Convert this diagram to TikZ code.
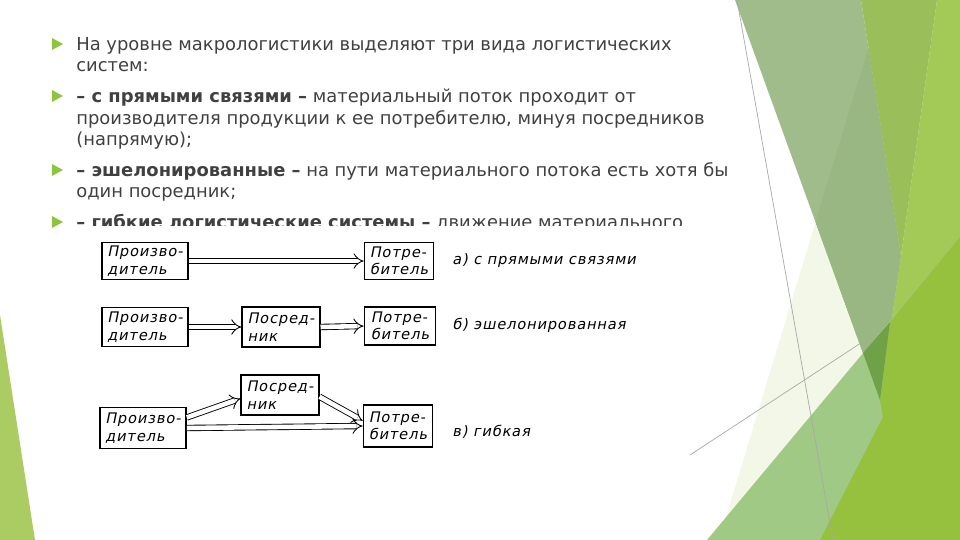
\documentclass[tikz,border=0pt]{standalone}
\usepackage{fontspec}
\usepackage{xcolor}
\usepackage{tikz}
\usetikzlibrary{arrows.meta}
\setmainfont{DejaVu Sans}
\newfontfamily\handfont[FakeSlant=0.2, LetterSpace=6]{DejaVu Sans}
\definecolor{facetcream}{HTML}{F3F7E8}
\definecolor{facetsage}{HTML}{9FBC8A}
\definecolor{facetsagedark}{HTML}{98B783}
\definecolor{facetmid}{HTML}{99BE5A}
\definecolor{facetlime}{HTML}{A3C957}
\definecolor{facetband}{HTML}{A1C986}
\definecolor{facetyellow}{HTML}{95C13F}
\definecolor{facetdeep}{HTML}{6FA148}
\definecolor{facetleft}{HTML}{ABCB63}
\definecolor{facetline}{HTML}{A8A8A8}
\definecolor{bulletgreen}{HTML}{8CC63E}
\definecolor{slidetext}{HTML}{404040}

\tikzset{
    box/.style={draw, line width=1pt, inner xsep=3pt, inner ysep=1pt, align=left,
        font=\handfont\fontsize{8.3pt}{10pt}\selectfont},
    flow/.style={double, double distance=2.6pt, line width=0.5pt, -{Implies[scale=1.35]}},
    caption/.style={anchor=west, inner sep=0pt, font=\handfont\fontsize{8.3pt}{10pt}\selectfont}
}

\begin{document}
\begin{tikzpicture}[x=0.02cm, y=-0.02cm]
    \useasboundingbox (0,0) rectangle (960,540);

    % Facet background
    \fill[facetleft] (0,315) -- (35,540) -- (0,540) -- cycle;
    \fill[facetcream] (883,0) -- (960,0) -- (960,540) -- (719,540) -- cycle;
    \draw[facetline, line width=0.4pt] (690,455) -- (960,278);
    \fill[facetsage] (735,0) -- (861,0) -- (901,256) -- (880,400) -- cycle;
    \begin{scope}
        \clip (883,0) -- (960,0) -- (960,540) -- (719,540) -- cycle;
        \fill[facetsagedark] (735,0) -- (861,0) -- (901,256) -- (880,400) -- cycle;
    \end{scope}
    \fill[facetmid] (861,0) -- (937,0) -- (901,256) -- cycle;
    \fill[facetlime] (937,0) -- (960,0) -- (960,300) -- (880,400) -- (901,256) -- cycle;
    \fill[facetband] (707,540) -- (960,237) -- (960,540) -- cycle;
    \fill[facetyellow] (890,322) -- (960,237) -- (960,540) -- (820,540) -- (883,417) -- (880,400) -- cycle;
    \fill[facetdeep] (863,353) -- (890,322) -- (880,400) -- cycle;
    \draw[facetline, line width=0.4pt] (737,0) -- (833,540);

    % Bullets
    \foreach \y in {44,96,170,222}
        \fill[bulletgreen] (52,\y-6) -- (63,\y) -- (52,\y+6) -- cycle;

    % Text
    \begin{scope}[every node/.style={anchor=base west, align=left, inner sep=0pt, text=slidetext,
            font=\fontsize{10.2pt}{12.5pt}\selectfont}]
        \node (levels) at (76,72) {На уровне макрологистики выделяют три вида логистических\\систем:};
        \node (direct) at (76,146) {\textbf{– с прямыми связями –} материальный поток проходит от\\производителя продукции к ее потребителю, минуя посредников\\(напрямую);};
        \node (echelon) at (76,198) {\textbf{– эшелонированные –} на пути материального потока есть хотя бы\\один посредник;};
        \node (flexible) at (76,229) {\textbf{– гибкие логистические системы –} движение материального};
    \end{scope}

    % Scheme
    \fill[white] (70,226) rectangle (690,462);

    \node[box, minimum width=1.68cm, minimum height=0.74cm] (prodA) at (145,261) {Произво-\\дитель};
    \node[box, minimum width=1.36cm, minimum height=0.74cm] (consA) at (399,261) {Потре-\\битель};
    \node[caption] (capA) at (452,260) {а) с прямыми связями};

    \node[box, minimum width=1.72cm, minimum height=0.78cm] (prodB) at (145,327) {Произво-\\дитель};
    \node[box, minimum width=1.46cm, minimum height=0.8cm] (midB) at (281,327) {Посред-\\ник};
    \node[box, minimum width=1.42cm, minimum height=0.76cm] (consB) at (400,326) {Потре-\\битель};
    \node[caption] (capB) at (452,325) {б) эшелонированная};

    \node[box, minimum width=1.5cm, minimum height=0.8cm] (midC) at (280,395) {Посред-\\ник};
    \node[box, minimum width=1.7cm, minimum height=0.82cm] (prodC) at (143,428) {Произво-\\дитель};
    \node[box, minimum width=1.38cm, minimum height=0.84cm] (consC) at (398,426) {Потре-\\битель};
    \node[caption] (capC) at (452,432) {в) гибкая};

    \draw[flow] (prodA.east) -- (consA.west);
    \draw[flow] (prodB.east) -- (midB.west);
    \draw[flow] (midB.east) -- (consB.west);
    \draw[flow] ([yshift=6pt]prodC.east) -- ([yshift=-2pt]midC.west);
    \draw[flow] (prodC.east) -- (consC.west);
    \draw[flow] ([yshift=-1pt]midC.east) -- ([yshift=3pt]consC.west);
\end{tikzpicture}
\end{document}
